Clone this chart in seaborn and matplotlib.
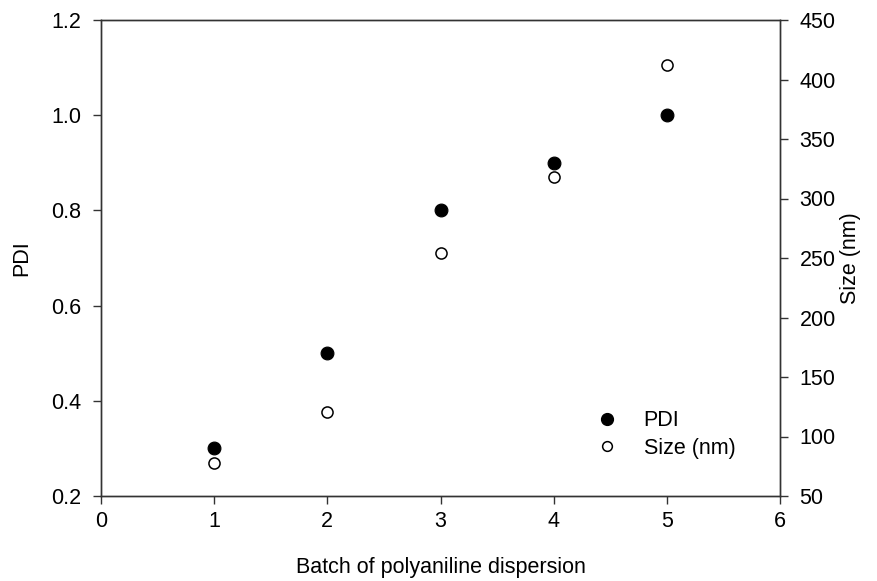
import matplotlib
matplotlib.use("Agg")
import matplotlib.pyplot as plt
from matplotlib.lines import Line2D
import seaborn as sns
import pandas as pd

batch = [1, 2, 3, 4, 5]
pdi = [0.3, 0.5, 0.8, 0.9, 1.0]
size_nm = [78, 121, 254, 318, 412]
x_ticks = [0, 1, 2, 3, 4, 5, 6]
pdi_ticks = [0.2, 0.4, 0.6, 0.8, 1.0, 1.2]
pdi_tick_labels = ["0.2", "0.4", "0.6", "0.8", "1.0", "1.2"]
size_ticks = [50, 100, 150, 200, 250, 300, 350, 400, 450]

sns.set_style("ticks")
plt.rcParams['font.family'] = ['Liberation Sans', 'DejaVu Sans']
plt.rcParams['text.color'] = 'black'
plt.rcParams['axes.labelcolor'] = 'black'
FS = 15.5

df = pd.DataFrame({"batch": batch, "pdi": pdi, "size": size_nm})

fig = plt.figure(figsize=(8.77, 5.81), dpi=100)
ax = fig.add_axes([101/877, 1-496/581, (780-101)/877, (496-20)/581])
ax2 = ax.twinx()

sns.scatterplot(data=df, x="batch", y="pdi", ax=ax, color="black", edgecolor="black",
                s=85, marker="o", linewidth=0.8, legend=False, zorder=3)
sns.scatterplot(data=df, x="batch", y="size", ax=ax2, facecolor="white", edgecolor="black",
                s=64, marker="o", linewidth=1.1, legend=False, zorder=3)

ax.set_xlim(0, 6)
ax.set_ylim(0.2, 1.2)
ax2.set_ylim(50, 450)
ax.set_xticks(x_ticks)
ax.set_yticks(pdi_ticks)
ax.set_yticklabels(pdi_tick_labels)
ax2.set_yticks(size_ticks)

for a in (ax, ax2):
    for sp in a.spines.values():
        sp.set_visible(True)
        sp.set_linewidth(1.0)
        sp.set_color("#333333")
    a.tick_params(axis="y", direction="out", length=6, width=1.0, colors="#333333",
                  labelcolor="black", labelsize=FS, pad=8)
ax.tick_params(axis="x", direction="out", length=6, width=1.0, colors="#333333",
               labelcolor="black", labelsize=FS, pad=5)

ax.set_xlabel("Batch of polyaniline dispersion", fontsize=FS, color="black")
ax.xaxis.set_label_coords(0.5, -0.128)
ax.set_ylabel("PDI", fontsize=FS, color="black")
ax.yaxis.set_label_coords(-0.101, 0.5)
ax2.set_ylabel("Size (nm)", fontsize=FS, color="black")
ax2.yaxis.set_label_coords(1.089, 0.5)

handles = [Line2D([], [], marker="o", linestyle="none", markerfacecolor="black",
                  markeredgecolor="black", markersize=8.5),
           Line2D([], [], marker="o", linestyle="none", markerfacecolor="white",
                  markeredgecolor="black", markersize=7, markeredgewidth=1.1)]
leg = ax2.legend(handles, ["PDI", "Size (nm)"], loc="upper left", frameon=False,
                 bbox_to_anchor=(566/877, 1-391/581), bbox_transform=fig.transFigure,
                 fontsize=FS, handletextpad=0.7, labelspacing=0.3, handlelength=2.0,
                 borderpad=0.4)
for t in leg.get_texts():
    t.set_color("black")

fig.savefig("out.png", dpi=100)
